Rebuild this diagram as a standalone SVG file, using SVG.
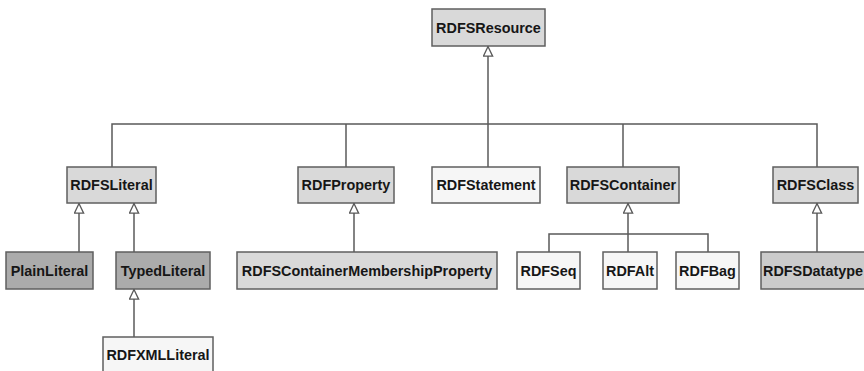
<svg xmlns="http://www.w3.org/2000/svg" width="864" height="371" viewBox="0 0 864 371">
  <style>
    .box { stroke: #5f5f5f; stroke-width: 1.5; }
    .mid { fill: #d9d9d9; }
    .dark { fill: #ababab; }
    .pale { fill: #f6f6f6; }
    .dt { fill: #cbcbcb; }
    .lbl { font-family: "Liberation Sans", Arial, sans-serif; font-weight: bold; font-size: 14.4px; fill: #161616; text-anchor: middle; }
    .edge { fill: none; stroke: #5a5a5a; stroke-width: 1.5; }
  </style>
  <defs>
    <marker id="gen" viewBox="0 0 10 10" markerUnits="userSpaceOnUse" markerWidth="11" markerHeight="11" refX="10" refY="5" orient="auto">
      <path d="M0.8,0.8 L9.5,5 L0.8,9.2 Z" fill="#ffffff" stroke="#5a5a5a" stroke-width="1.2"/>
    </marker>
  </defs>

  <g id="connectors">
    <path class="edge" d="M112,167 V124 H817 V167"/>
    <path class="edge" d="M346,124 V167"/>
    <path class="edge" d="M623,124 V167"/>
    <path class="edge" d="M488,124 V167"/>
    <path class="edge" d="M488,124 V46" marker-end="url(#gen)"/>
    <path class="edge" d="M79,252 V203" marker-end="url(#gen)"/>
    <path class="edge" d="M134,252 V203" marker-end="url(#gen)"/>
    <path class="edge" d="M134,337 V289" marker-end="url(#gen)"/>
    <path class="edge" d="M354,252 V203" marker-end="url(#gen)"/>
    <path class="edge" d="M549,252 V234 H708 V252"/>
    <path class="edge" d="M628,252 V203" marker-end="url(#gen)"/>
    <path class="edge" d="M817,252 V203" marker-end="url(#gen)"/>
  </g>

  <g id="RDFSResource">
    <rect class="box mid" x="432" y="9" width="113" height="37"/>
    <text class="lbl" x="488.5" y="32.5">RDFSResource</text>
  </g>
  <g id="RDFSLiteral">
    <rect class="box mid" x="67" y="167" width="89" height="36"/>
    <text class="lbl" x="111.5" y="190">RDFSLiteral</text>
  </g>
  <g id="RDFProperty">
    <rect class="box mid" x="298" y="167" width="96" height="36"/>
    <text class="lbl" x="346" y="190">RDFProperty</text>
  </g>
  <g id="RDFStatement">
    <rect class="box pale" x="432" y="167" width="108" height="36"/>
    <text class="lbl" x="486" y="190">RDFStatement</text>
  </g>
  <g id="RDFSContainer">
    <rect class="box mid" x="567" y="167" width="112" height="36"/>
    <text class="lbl" x="623" y="190">RDFSContainer</text>
  </g>
  <g id="RDFSClass">
    <rect class="box mid" x="773" y="167" width="85" height="36"/>
    <text class="lbl" x="815.5" y="190">RDFSClass</text>
  </g>
  <g id="PlainLiteral">
    <rect class="box dark" x="6" y="252" width="87" height="37"/>
    <text class="lbl" x="49.5" y="275.5">PlainLiteral</text>
  </g>
  <g id="TypedLiteral">
    <rect class="box dark" x="116" y="252" width="94" height="37"/>
    <text class="lbl" x="163" y="275.5">TypedLiteral</text>
  </g>
  <g id="RDFSContainerMembershipProperty">
    <rect class="box mid" x="237" y="252" width="260" height="37"/>
    <text class="lbl" x="367" y="275.5">RDFSContainerMembershipProperty</text>
  </g>
  <g id="RDFSeq">
    <rect class="box pale" x="517" y="252" width="63" height="37"/>
    <text class="lbl" x="548.5" y="275.5">RDFSeq</text>
  </g>
  <g id="RDFAlt">
    <rect class="box pale" x="603" y="252" width="54" height="37"/>
    <text class="lbl" x="630" y="275.5">RDFAlt</text>
  </g>
  <g id="RDFBag">
    <rect class="box pale" x="676" y="252" width="63" height="37"/>
    <text class="lbl" x="707.5" y="275.5">RDFBag</text>
  </g>
  <g id="RDFSDatatype">
    <rect class="box dt" x="761" y="252" width="110" height="37"/>
    <text class="lbl" x="813" y="275.5">RDFSDatatype</text>
  </g>
  <g id="RDFXMLLiteral">
    <rect class="box pale" x="103" y="337" width="110" height="40"/>
    <text class="lbl" x="158" y="359.5">RDFXMLLiteral</text>
  </g>
</svg>
